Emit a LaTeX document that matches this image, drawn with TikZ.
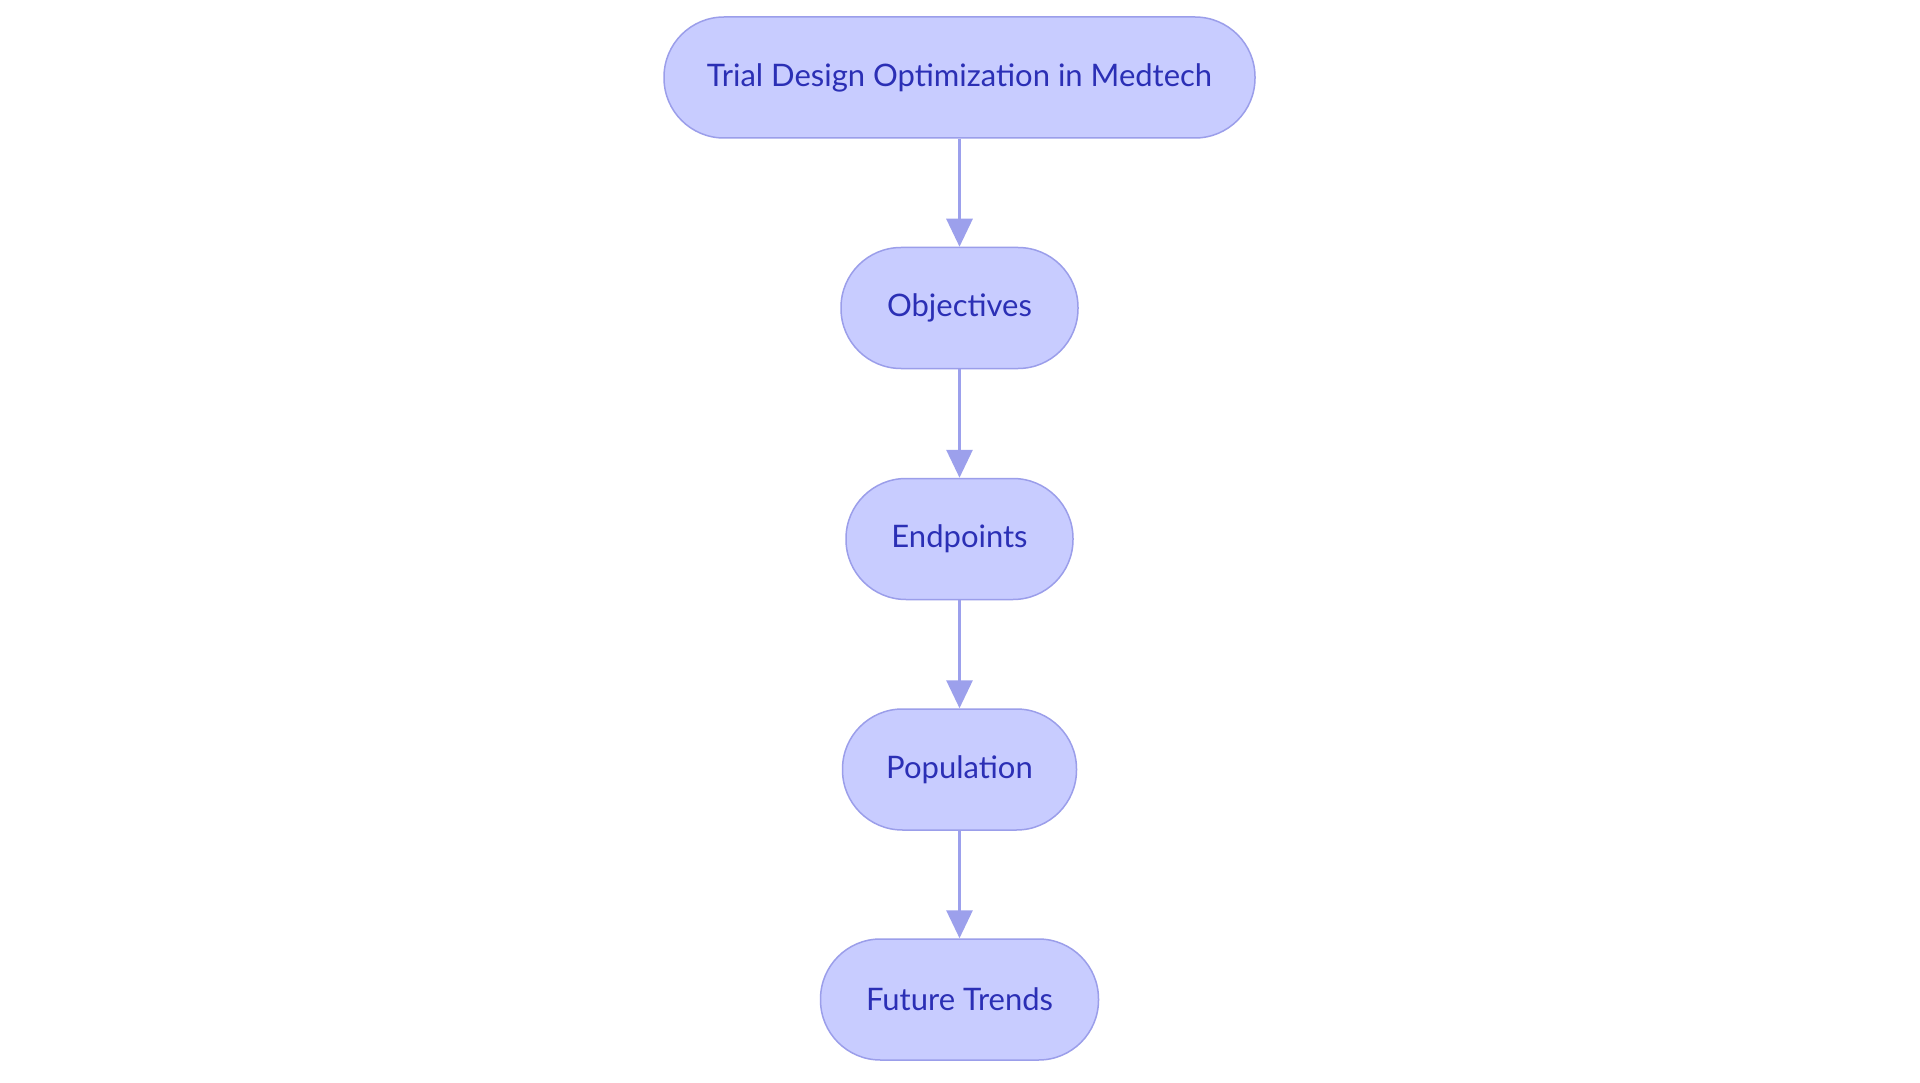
\documentclass[tikz,border=0pt]{standalone}
\usepackage{fontspec}
\setmainfont{Lato}
\usetikzlibrary{arrows.meta}
\definecolor{nfill}{HTML}{C8CCFF}
\definecolor{nline}{HTML}{9B9EEA}
\definecolor{ntext}{HTML}{2B2FB5}
\definecolor{aline}{HTML}{9CA0EC}
\begin{document}
\begin{tikzpicture}[x=1pt,y=-1pt,
  pill/.style={draw=nline, line width=1.5pt, fill=nfill, rounded corners=60pt,
    minimum height=121pt, inner sep=0pt, text=ntext, font=\fontsize{31}{35}\selectfont},
  conn/.style={draw=aline, line width=3pt, -{Triangle[length=28pt,width=26pt]}}]
\useasboundingbox (0,0) rectangle (1920,1083);
\fill[white] (0,0) rectangle (1920,1083);
\node[pill, minimum width=591pt] (a) at (959.5,77.5) {Trial Design Optimization in Medtech};
\node[pill, minimum width=237pt] (b) at (959.5,308) {Objectives};
\node[pill, minimum width=227pt] (c) at (959.5,539) {Endpoints};
\node[pill, minimum width=234pt] (d) at (959.5,769.5) {Population};
\node[pill, minimum width=278pt] (e) at (959.5,999.5) {Future Trends};
\draw[conn] (a) -- (b);
\draw[conn] (b) -- (c);
\draw[conn] (c) -- (d);
\draw[conn] (d) -- (e);
\end{tikzpicture}
\end{document}
